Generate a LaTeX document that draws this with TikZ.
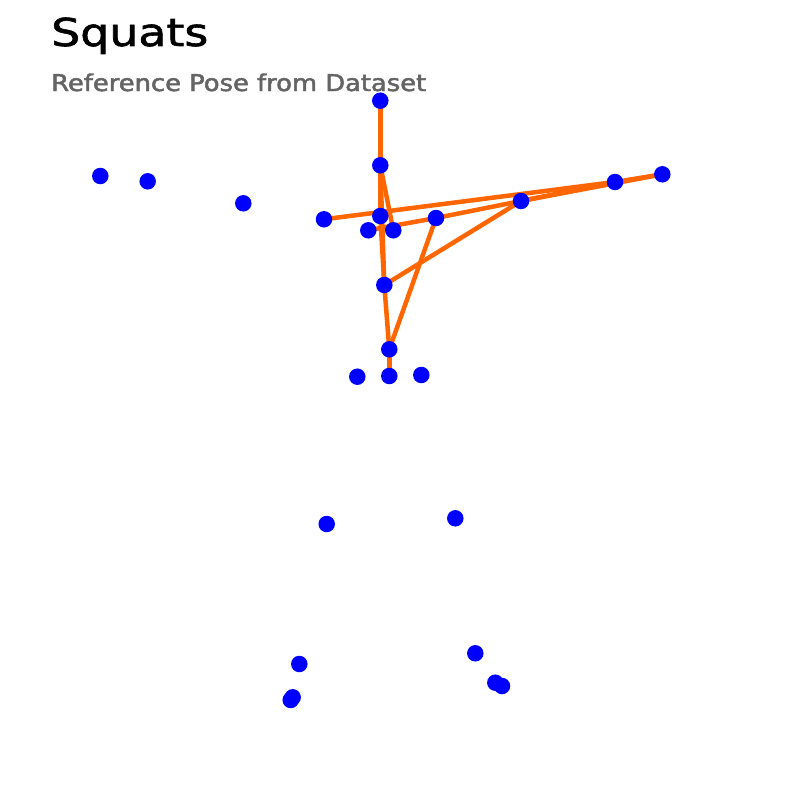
\documentclass[tikz,border=0pt]{standalone}
\usepackage{fontspec}
\setmainfont{DejaVu Sans}
\newfontfamily\titlefont[FakeBold=1.5]{DejaVu Sans}
\newfontfamily\subfont[FakeBold=2]{DejaVu Sans}
\definecolor{bone}{RGB}{255,102,0}
\definecolor{joint}{RGB}{0,0,255}
\definecolor{subgray}{RGB}{100,100,100}
\tikzset{
  bonestyle/.style={draw=bone, line width=4.5pt, line cap=round},
  jointdot/.style={circle, fill=joint, inner sep=0pt, minimum size=16.5pt},
  titletext/.style={anchor=base west, inner sep=0pt, text=black, font=\titlefont},
  subtext/.style={anchor=base west, inner sep=0pt, text=subgray, font=\subfont}
}
\begin{document}
\begin{tikzpicture}[x=1pt,y=-1pt]
\useasboundingbox (0,0) rectangle (800,800);
\fill[white] (0,0) rectangle (800,800);
% titles
\node[titletext] (title) at (51,46) {\resizebox{157pt}{28.5pt}{Squats}};
\node[subtext] (subtitle) at (51,91) {\resizebox{375pt}{17.5pt}{Reference Pose from Dataset}};
% keypoints
\coordinate (p1) at (380.3,100.7);
\coordinate (p2) at (380.3,165.3);
\coordinate (p3) at (380.3,216);
\coordinate (p4) at (368.3,230.3);
\coordinate (p5) at (393.3,230.3);
\coordinate (p6) at (324,219.3);
\coordinate (p7) at (436,218);
\coordinate (p8) at (521,201);
\coordinate (p9) at (615,182);
\coordinate (p10) at (662.3,174.3);
\coordinate (p11) at (384.3,285);
\coordinate (p12) at (389.3,349.3);
\coordinate (p13) at (357.3,376.7);
\coordinate (p14) at (389.3,376);
\coordinate (p15) at (421.3,375);
\coordinate (l1) at (100.3,176);
\coordinate (l2) at (147.7,181.3);
\coordinate (l3) at (243.3,203.3);
\coordinate (b1) at (326.7,524);
\coordinate (b2) at (455.3,518.3);
\coordinate (b3) at (299.3,664);
\coordinate (b4) at (475.3,653.3);
\coordinate (b5) at (292.7,697.3);
\coordinate (b6) at (290.7,700);
\coordinate (b7) at (495.3,682.7);
\coordinate (b8) at (502,686);
% bones
\draw[bonestyle] (p1) -- (p2);
\draw[bonestyle] (p2) -- (p3);
\draw[bonestyle] (p2) -- (p11);
\draw[bonestyle] (p2) -- (p5);
\draw[bonestyle] (p3) -- (p11);
\draw[bonestyle] (p11) -- (p12);
\draw[bonestyle] (p12) -- (p14);
\draw[bonestyle] (p6) -- (p9);
\draw[bonestyle] (p9) -- (p10);
\draw[bonestyle] (p4) -- (p7);
\draw[bonestyle] (p7) -- (p8);
\draw[bonestyle] (p8) -- (p9);
\draw[bonestyle] (p8) -- (p10);
\draw[bonestyle] (p11) -- (p8);
\draw[bonestyle] (p7) -- (p12);
% joints
\foreach \n in {p1,p2,p3,p4,p5,p6,p7,p8,p9,p10,p11,p12,p13,p14,p15,l1,l2,l3,b1,b2,b3,b4,b5,b6,b7,b8}
  \node[jointdot] (d\n) at (\n) {};
\end{tikzpicture}
\end{document}
